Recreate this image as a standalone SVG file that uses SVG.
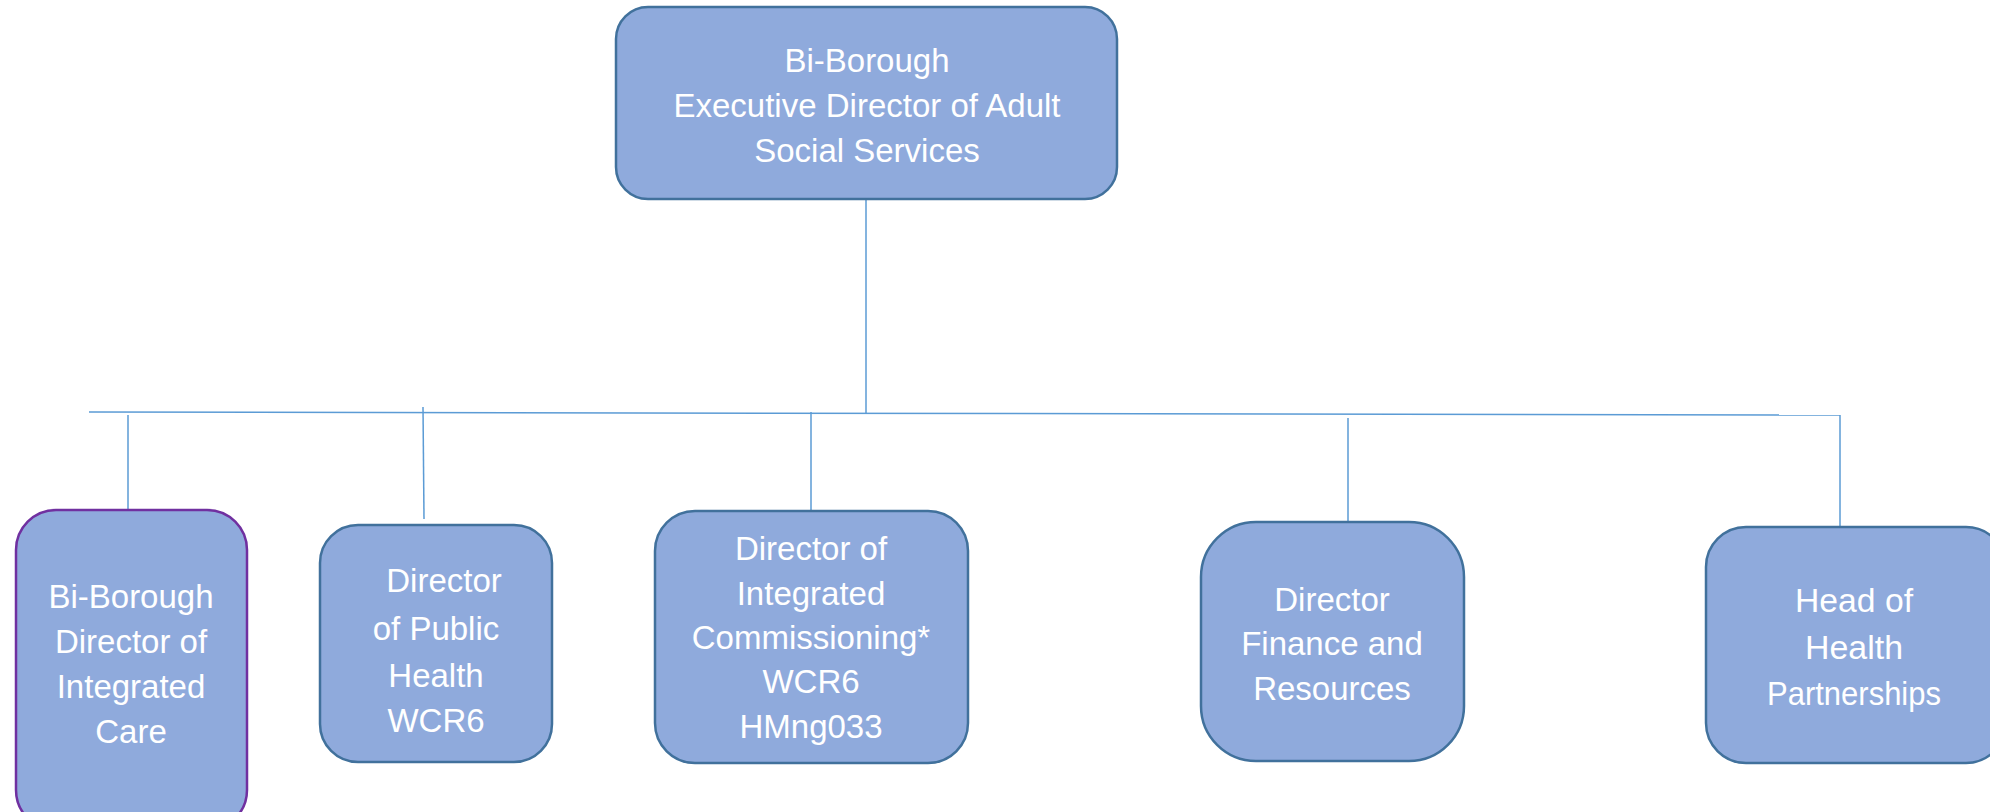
<svg xmlns="http://www.w3.org/2000/svg" width="1990" height="812" viewBox="0 0 1990 812">
<style>
.box{fill:#8FAADC;stroke:#41719C;stroke-width:2.5}
.purple{stroke:#7030A0}
.t{font-family:"Liberation Sans",Arial,sans-serif;font-size:33px;fill:#FFFFFF;text-anchor:middle}
.c{stroke:#5B9BD5;stroke-width:1.5;fill:none}
</style>
<rect width="1990" height="812" fill="#FFFFFF"/>
<g id="connectors">
<line class="c" x1="866" y1="199" x2="866" y2="413"/>
<line class="c" x1="89" y1="412" x2="1840" y2="415"/>
<line class="c" x1="128" y1="415" x2="128" y2="509"/>
<line class="c" x1="423" y1="407" x2="424" y2="519"/>
<line class="c" x1="811" y1="412" x2="811" y2="510"/>
<line class="c" x1="1348" y1="418" x2="1348" y2="522"/>
<line class="c" x1="1840" y1="415" x2="1840" y2="530"/>
</g>
<g id="node-top">
<rect class="box" x="616" y="7" width="501" height="192" rx="32"/>
<text class="t" x="867" y="72">Bi-Borough</text>
<text class="t" x="867" y="117">Executive Director of Adult</text>
<text class="t" x="867" y="162">Social Services</text>
</g>
<g id="node-integrated-care">
<rect class="box purple" x="16" y="510" width="231" height="320" rx="40"/>
<text class="t" x="131" y="608">Bi-Borough</text>
<text class="t" x="131" y="653">Director of</text>
<text class="t" x="131" y="698">Integrated</text>
<text class="t" x="131" y="743">Care</text>
</g>
<g id="node-public-health">
<rect class="box" x="320" y="525" width="232" height="237" rx="38"/>
<text class="t" x="444" y="592">Director</text>
<text class="t" x="436" y="640">of Public</text>
<text class="t" x="436" y="687">Health</text>
<text class="t" x="436" y="732">WCR6</text>
</g>
<g id="node-commissioning">
<rect class="box" x="655" y="511" width="313" height="252" rx="40"/>
<text class="t" x="811" y="560">Director of</text>
<text class="t" x="811" y="605">Integrated</text>
<text class="t" x="811" y="649">Commissioning*</text>
<text class="t" x="811" y="693">WCR6</text>
<text class="t" x="811" y="738">HMng033</text>
</g>
<g id="node-finance">
<rect class="box" x="1201" y="522" width="263" height="239" rx="55"/>
<text class="t" x="1332" y="611">Director</text>
<text class="t" x="1332" y="655">Finance and</text>
<text class="t" x="1332" y="700">Resources</text>
</g>
<g id="node-health-partnerships">
<rect class="box" x="1706" y="527" width="300" height="236" rx="40"/>
<text class="t" x="1854" y="612" textLength="118" lengthAdjust="spacingAndGlyphs">Head of</text>
<text class="t" x="1854" y="659" textLength="98" lengthAdjust="spacingAndGlyphs">Health</text>
<text class="t" x="1854" y="705" textLength="174" lengthAdjust="spacingAndGlyphs">Partnerships</text>
</g>
</svg>
